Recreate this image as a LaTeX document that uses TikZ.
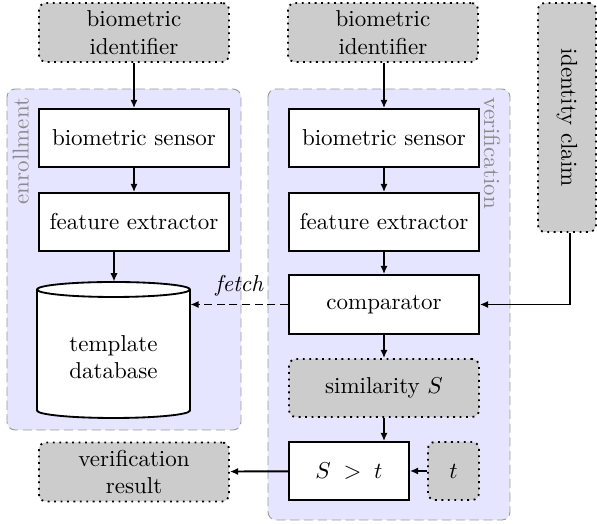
\documentclass[tikz,border=0pt]{standalone}
\usepackage{graphicx}
\usetikzlibrary{arrows.meta}
\def\pxu{0.4348pt}
\begin{document}
\begin{tikzpicture}[x=0.4348pt,y=-0.4348pt,
 wbox/.style={draw,thick,fill=white,minimum width=190*\pxu,minimum height=58*\pxu,align=center,inner sep=1pt},
 gbox/.style={draw,thick,dotted,fill=black!20,rounded corners=3pt,minimum width=190*\pxu,minimum height=59*\pxu,align=center,inner sep=1pt},
 grp/.style={draw=black!40,dash pattern=on 4pt off 2pt,fill=blue!10,rounded corners=3.5pt},
 grplabel/.style={text=black!45,inner sep=1pt},
 arr/.style={line width=0.85pt,-{Latex[length=3.6pt,width=3.2pt]}},
 cyl/.style={thick,fill=white},
]
\useasboundingbox (0,0) rectangle (597,524);
% groups
\draw[grp] (7,89) rectangle (241,430);
\draw[grp] (268,89) rectangle (510,520);
\node[grplabel,rotate=90,anchor=north east] (enl) at (10,95) {enrollment};
\node[grplabel,rotate=-90,anchor=north west] (vel) at (503,95) {verification};
% left column
\node[gbox] (bio1) at (134,32.5) {biometric\\identifier};
\node[wbox] (sen1) at (134,138) {biometric sensor};
\node[wbox] (fe1) at (134,222) {feature extractor};
\draw[cyl] (37,289.5) -- (37,410.5) arc[start angle=180,end angle=360,x radius=33.26pt,y radius=3.26pt]
  -- (190,289.5) arc[start angle=0,end angle=180,x radius=33.26pt,y radius=3.26pt] -- cycle;
\draw[thick] (37,289.5) arc[start angle=180,end angle=360,x radius=33.26pt,y radius=3.26pt];
\node[minimum width=153*\pxu,minimum height=122*\pxu,align=center,inner sep=0pt] (db) at (113.5,357) {template\\database};
\node[gbox] (res) at (134,472) {verification\\result};
% right column
\node[gbox] (bio2) at (383,32.5) {biometric\\identifier};
\node[wbox] (sen2) at (384,138) {biometric sensor};
\node[wbox] (fe2) at (384,222) {feature extractor};
\node[wbox,minimum height=59*\pxu] (cmp) at (384,304.5) {comparator};
\node[gbox,minimum height=58*\pxu] (sim) at (384,388) {similarity $S$};
\node[wbox,minimum width=120*\pxu] (gt) at (349,471) {$S\;>\;t$};
\node[gbox,minimum width=51*\pxu,minimum height=58*\pxu] (t) at (453.5,471) {$t$};
\node[gbox,minimum width=58*\pxu,minimum height=229*\pxu] (ic) at (567,117.5) {\rotatebox{-90}{identity claim}};
% connectors
\draw[arr] (bio1.south) -- (bio1.south |- sen1.north);
\draw[arr] (sen1) -- (fe1);
\draw[arr] ([xshift=0.5*\pxu]fe1.south -| db.north) -- ([xshift=0.5*\pxu,yshift=14*\pxu]db.north);
\draw[arr] (sen2.north |- bio2.south) -- (sen2.north);
\draw[arr] (sen2) -- (fe2);
\draw[arr] (fe2) -- (cmp);
\draw[arr] (cmp) -- (sim);
\draw[arr] (sim.south) -- (sim.south |- gt.north);
\draw[arr] (t) -- (gt);
\draw[arr] (gt) -- (res);
\draw[arr] ([xshift=3*\pxu]ic.south) |- (cmp.east);
\draw[arr,dash pattern=on 3.5pt off 2pt] (cmp.west) -- (cmp.west -| db.east) node[midway,above,font=\itshape] (fl) {fetch};
\end{tikzpicture}
\end{document}
